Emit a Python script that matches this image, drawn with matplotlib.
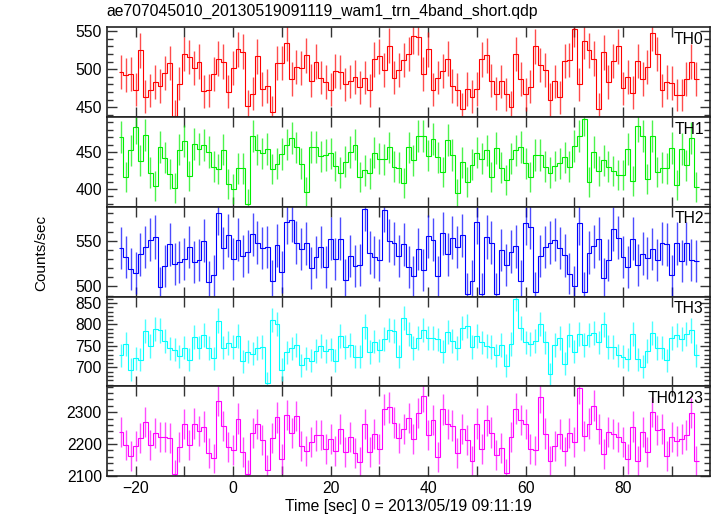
import numpy as np
import matplotlib
matplotlib.use("Agg")
import matplotlib.pyplot as plt
from matplotlib.ticker import MultipleLocator

plt.rcParams['font.family'] = ['Liberation Sans', 'DejaVu Sans']

# 1-s light curve bins, time relative to 2013/05/19 09:11:19
t_start = -23.5
bin_size = 1.0

th0 = [496, 492, 494, 473, 525, 464, 472, 483, 478, 495,
       508, 439, 481, 520, 516, 502, 510, 471, 472, 494,
       514, 510, 470, 501, 526, 523, 451, 468, 517, 474,
       478, 444, 508, 508, 534, 487, 503, 502, 518, 485,
       510, 489, 483, 473, 498, 496, 480, 484, 490, 476,
       489, 472, 513, 517, 499, 531, 489, 499, 512, 520,
       543, 542, 494, 526, 473, 489, 498, 514, 478, 473,
       448, 474, 464, 474, 513, 518, 485, 468, 484, 467,
       450, 520, 487, 467, 477, 530, 506, 499, 460, 484,
       463, 511, 512, 553, 480, 537, 525, 514, 447, 522,
       483, 511, 530, 475, 490, 469, 511, 487, 503, 547,
       520, 472, 483, 482, 466, 466, 487, 510, 487]

th1 = [470, 416, 452, 483, 438, 473, 422, 404, 457, 442,
       420, 401, 453, 465, 418, 461, 454, 459, 450, 430,
       427, 453, 407, 400, 428, 428, 380, 471, 453, 448,
       454, 427, 434, 447, 460, 469, 456, 434, 396, 457,
       457, 444, 446, 448, 431, 422, 437, 450, 460, 416,
       425, 421, 449, 441, 440, 456, 430, 429, 408, 456,
       439, 471, 471, 445, 467, 443, 423, 466, 446, 394,
       436, 409, 433, 449, 441, 452, 416, 455, 429, 412,
       441, 452, 457, 435, 416, 446, 446, 430, 422, 431,
       435, 443, 430, 458, 471, 494, 410, 450, 424, 439,
       430, 424, 419, 419, 454, 411, 485, 472, 413, 471,
       423, 429, 428, 455, 405, 454, 432, 469, 403]

th2 = [542, 532, 519, 515, 535, 543, 551, 554, 499, 522,
       546, 525, 527, 530, 543, 527, 529, 550, 505, 512,
       580, 542, 556, 530, 551, 533, 538, 557, 548, 542,
       543, 506, 545, 516, 570, 573, 548, 541, 547, 520,
       532, 543, 521, 552, 530, 552, 507, 533, 522, 523,
       585, 537, 532, 529, 584, 550, 547, 533, 546, 521,
       511, 541, 518, 555, 551, 511, 558, 535, 553, 543,
       556, 492, 506, 570, 492, 554, 548, 492, 540, 523,
       538, 544, 506, 569, 565, 494, 533, 543, 548, 551,
       542, 534, 514, 500, 569, 494, 537, 544, 552, 509,
       529, 563, 553, 532, 521, 552, 523, 536, 531, 541,
       529, 547, 546, 512, 547, 528, 547, 529, 528]

th3 = [728, 755, 695, 721, 718, 785, 750, 790, 786, 762,
       744, 741, 726, 746, 718, 771, 746, 775, 745, 721,
       809, 746, 757, 748, 773, 714, 737, 732, 745, 748,
       663, 810, 801, 695, 735, 744, 752, 705, 721, 715,
       738, 750, 738, 742, 715, 773, 748, 752, 725, 725,
       795, 736, 760, 740, 767, 788, 785, 725, 815, 777,
       745, 769, 788, 769, 768, 765, 737, 782, 762, 745,
       791, 796, 748, 774, 758, 750, 748, 728, 752, 704,
       754, 860, 791, 758, 755, 762, 801, 758, 685, 752,
       769, 709, 775, 737, 777, 752, 775, 781, 758, 800,
       748, 748, 728, 725, 719, 778, 719, 702, 738, 781,
       745, 746, 717, 769, 775, 767, 777, 786, 728]

th0123 = [2239, 2196, 2162, 2193, 2218, 2270, 2197, 2234, 2221, 2221,
          2218, 2105, 2190, 2262, 2196, 2264, 2242, 2255, 2173, 2155,
          2335, 2256, 2192, 2181, 2280, 2176, 2105, 2234, 2262, 2213,
          2119, 2218, 2284, 2154, 2291, 2235, 2288, 2193, 2178, 2207,
          2227, 2229, 2185, 2217, 2178, 2247, 2174, 2221, 2173, 2145,
          2262, 2176, 2232, 2184, 2309, 2315, 2267, 2220, 2248, 2281,
          2216, 2297, 2349, 2228, 2276, 2159, 2309, 2263, 2258, 2173,
          2247, 2212, 2148, 2264, 2184, 2274, 2236, 2166, 2187, 2108,
          2221, 2311, 2276, 2263, 2185, 2180, 2347, 2233, 2148, 2195,
          2232, 2177, 2234, 2208, 2375, 2226, 2264, 2320, 2247, 2168,
          2239, 2231, 2221, 2205, 2153, 2255, 2147, 2237, 2174, 2300,
          2244, 2247, 2163, 2221, 2211, 2215, 2229, 2297, 2147]

names = ['TH0', 'TH1', 'TH2', 'TH3', 'TH0123']
series = [th0, th1, th2, th3, th0123]
colors = ['#ff0000', '#00ee00', '#0000ff', '#00ffff', '#ff00ff']
ylims = [(437, 555), (376, 497), (489, 587), (656, 865), (2100, 2381)]
ymajor = [50, 50, 50, 50, 100]
yminor = [10, 10, 10, 10, 20]

fig = plt.figure(figsize=(7.17, 5.16), dpi=100)
axes = fig.subplots(5, 1, sharex=True, gridspec_kw=dict(hspace=0))
fig.subplots_adjust(left=0.149, right=0.990, top=0.947, bottom=0.0775)

for ax, name, vals, c, yl, ymj, ymn in zip(axes, names, series, colors,
                                           ylims, ymajor, yminor):
    vals = np.asarray(vals, dtype=float)
    edges = t_start + bin_size * np.arange(len(vals) + 1)
    centers = 0.5 * (edges[:-1] + edges[1:])
    # Poisson errors for 1-s bins
    err = np.sqrt(vals * bin_size) / bin_size
    ax.errorbar(centers, vals, yerr=err, fmt='none', ecolor=c,
                elinewidth=1.0, capsize=0, alpha=0.7)
    ax.stairs(vals, edges, baseline=None, color=c, lw=0.8)
    ax.set_ylim(*yl)
    ax.set_xlim(-25.9, 97.8)
    ax.yaxis.set_major_locator(MultipleLocator(ymj))
    ax.yaxis.set_minor_locator(MultipleLocator(ymn))
    ax.xaxis.set_major_locator(MultipleLocator(20))
    ax.xaxis.set_minor_locator(MultipleLocator(10))
    ax.tick_params(which='both', direction='in', top=True, right=True,
                   labelsize=11.3, width=1, color='#333333')
    ax.tick_params(which='major', length=7)
    ax.tick_params(which='minor', length=4)
    ax.tick_params(axis='x', which='minor', length=7)
    for s in ax.spines.values():
        s.set_linewidth(1.2)
        s.set_color('#222222')
    ax.text(0.99, 0.95, name, transform=ax.transAxes, ha='right', va='top',
            fontsize=11.3)

fig.text(0.149, 0.977, 'ae707045010_20130519091119_wam1_trn_4band_short.qdp',
         ha='left', va='center', fontsize=11.3)
axes[-1].set_xlabel('Time [sec] 0 = 2013/05/19 09:11:19', fontsize=11.3,
                    labelpad=2)
fig.text(0.057, 0.51, 'Counts/sec', rotation=90, ha='center', va='center',
         fontsize=11)

fig.savefig('out.png', dpi=100)
